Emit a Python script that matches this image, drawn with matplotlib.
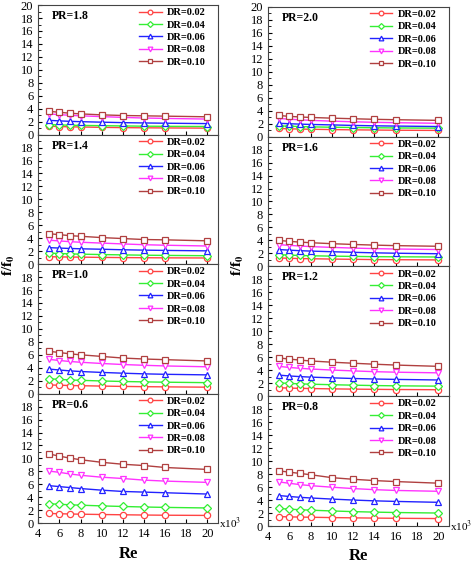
import matplotlib
matplotlib.use('Agg')
import matplotlib.pyplot as plt
from matplotlib.ticker import MultipleLocator, FixedLocator

plt.rcParams['font.family'] = ['Liberation Serif', 'DejaVu Serif']
plt.rcParams['mathtext.fontset'] = 'stix'

# Re (x10^3)
re = [5, 6, 7, 8, 10, 12, 14, 16, 20]
dr_labels = ['DR=0.02', 'DR=0.04', 'DR=0.06', 'DR=0.08', 'DR=0.10']

# f/f0 for each PR, one list per DR
pr_18 = [[1.30, 1.25, 1.20, 1.18, 1.12, 1.08, 1.05, 1.03, 1.00],
         [1.55, 1.50, 1.45, 1.42, 1.38, 1.34, 1.30, 1.28, 1.25],
         [2.20, 2.12, 2.05, 2.00, 1.92, 1.85, 1.80, 1.76, 1.70],
         [3.20, 3.08, 2.98, 2.90, 2.78, 2.66, 2.56, 2.50, 2.40],
         [3.60, 3.45, 3.30, 3.20, 3.05, 2.95, 2.90, 2.85, 2.75]]
pr_20 = [[1.25, 1.20, 1.16, 1.13, 1.08, 1.04, 1.01, 0.98, 0.95],
         [1.65, 1.60, 1.55, 1.50, 1.44, 1.40, 1.36, 1.33, 1.30],
         [2.05, 1.98, 1.92, 1.87, 1.80, 1.72, 1.66, 1.62, 1.55],
         [2.80, 2.68, 2.58, 2.50, 2.38, 2.28, 2.20, 2.14, 2.05],
         [3.25, 3.12, 3.02, 2.95, 2.84, 2.75, 2.66, 2.60, 2.50]]
pr_14 = [[1.15, 1.12, 1.10, 1.08, 1.04, 1.01, 0.99, 0.97, 0.95],
         [1.70, 1.64, 1.58, 1.54, 1.48, 1.43, 1.38, 1.35, 1.30],
         [2.55, 2.48, 2.42, 2.37, 2.30, 2.22, 2.16, 2.12, 2.05],
         [3.70, 3.58, 3.47, 3.38, 3.25, 3.12, 3.00, 2.92, 2.80],
         [4.70, 4.55, 4.40, 4.30, 4.10, 3.95, 3.80, 3.75, 3.60]]
pr_16 = [[1.30, 1.25, 1.21, 1.18, 1.13, 1.09, 1.05, 1.03, 1.00],
         [1.80, 1.74, 1.68, 1.64, 1.58, 1.54, 1.50, 1.48, 1.45],
         [2.60, 2.50, 2.42, 2.36, 2.26, 2.17, 2.09, 2.03, 1.95],
         [3.35, 3.24, 3.14, 3.05, 2.93, 2.82, 2.74, 2.68, 2.60],
         [4.00, 3.86, 3.74, 3.65, 3.50, 3.38, 3.28, 3.20, 3.10]]
pr_10 = [[1.35, 1.30, 1.26, 1.23, 1.17, 1.12, 1.08, 1.05, 1.00],
         [2.30, 2.20, 2.12, 2.06, 1.96, 1.88, 1.82, 1.77, 1.70],
         [3.80, 3.65, 3.52, 3.42, 3.28, 3.16, 3.06, 2.99, 2.90],
         [5.30, 5.12, 4.97, 4.85, 4.66, 4.50, 4.38, 4.28, 4.15],
         [6.55, 6.35, 6.15, 6.00, 5.75, 5.50, 5.35, 5.25, 5.05]]
pr_12 = [[1.30, 1.25, 1.21, 1.18, 1.13, 1.09, 1.06, 1.03, 1.00],
         [2.05, 1.97, 1.90, 1.85, 1.77, 1.70, 1.64, 1.60, 1.55],
         [3.25, 3.12, 3.02, 2.94, 2.83, 2.73, 2.65, 2.59, 2.50],
         [4.60, 4.43, 4.30, 4.19, 4.03, 3.90, 3.78, 3.70, 3.60],
         [5.90, 5.72, 5.56, 5.43, 5.24, 5.08, 4.93, 4.80, 4.60]]
pr_06 = [[1.50, 1.46, 1.42, 1.39, 1.34, 1.30, 1.26, 1.23, 1.20],
         [3.00, 2.92, 2.84, 2.78, 2.67, 2.58, 2.50, 2.44, 2.35],
         [5.80, 5.65, 5.50, 5.35, 5.10, 4.90, 4.80, 4.70, 4.50],
         [8.05, 7.85, 7.60, 7.40, 7.10, 6.90, 6.65, 6.50, 6.30],
         [10.70, 10.35, 10.05, 9.80, 9.40, 9.10, 8.90, 8.60, 8.30]]
pr_08 = [[1.45, 1.41, 1.38, 1.35, 1.30, 1.26, 1.22, 1.19, 1.15],
         [2.70, 2.60, 2.51, 2.44, 2.32, 2.22, 2.14, 2.08, 2.00],
         [4.70, 4.55, 4.42, 4.32, 4.15, 4.00, 3.88, 3.79, 3.65],
         [6.80, 6.58, 6.38, 6.22, 5.98, 5.77, 5.60, 5.48, 5.35],
         [8.50, 8.30, 8.10, 7.90, 7.45, 7.20, 7.00, 6.85, 6.60]]

left_col = [('PR=1.8', pr_18), ('PR=1.4', pr_14), ('PR=1.0', pr_10), ('PR=0.6', pr_06)]
right_col = [('PR=2.0', pr_20), ('PR=1.6', pr_16), ('PR=1.2', pr_12), ('PR=0.8', pr_08)]

colors = ['#ff4444', '#33ee33', '#2222ff', '#ff33ff', '#b04040']
markers = ['o', 'D', '^', 'v', 's']
msizes = [4.5, 4, 4.5, 4.5, 4.5]

fig = plt.figure(figsize=(4.72, 5.65), dpi=100)


def draw_col(panels, x0, x1, top, bottom):
    h = (top - bottom) / 4
    axes = []
    for i, (title, data) in enumerate(panels):
        ax = fig.add_axes([x0, top - (i + 1) * h, x1 - x0, h])
        for k in range(5):
            ax.plot(re, data[k], color=colors[k], marker=markers[k], ms=msizes[k],
                    mfc='white', mec=colors[k], mew=0.9, lw=1.0, label=dr_labels[k])
        ax.set_xlim(4, 21)
        ax.set_ylim(0, 20)
        ax.xaxis.set_major_locator(MultipleLocator(2))
        # the top label of lower panels is hidden by the panel above
        top_tick = 20 if i == 0 else 18
        ax.yaxis.set_major_locator(FixedLocator(list(range(0, top_tick + 1, 2))))
        ax.yaxis.set_minor_locator(MultipleLocator(1))
        ax.tick_params(direction='in', labelsize=9, length=3, width=0.8)
        ax.tick_params(which='minor', direction='in', length=2)
        for s in ax.spines.values():
            s.set_linewidth(0.8)
            s.set_color('#444444')
        if i < 3:
            ax.tick_params(labelbottom=False)
        ax.text(0.075, 0.915, title, transform=ax.transAxes, fontsize=8.5,
                fontweight='bold', va='center')
        ax.legend(loc='upper right', bbox_to_anchor=(0.955, 1.01), frameon=False,
                  prop={'weight': 'bold', 'size': 7.5}, handlelength=2.2,
                  markerscale=0.75, labelspacing=0.3, borderaxespad=0.0,
                  handletextpad=0.5)
        axes.append(ax)
    return axes


lax = draw_col(left_col, 0.081, 0.462, 0.991, 0.074)
rax = draw_col(right_col, 0.568, 0.951, 0.988, 0.069)

for ax in (lax[-1], rax[-1]):
    ax.text(1.005, 0.0, r'x10$^3$', transform=ax.transAxes, fontsize=8,
            va='center', ha='left')
    ax.set_xlabel('Re', fontsize=12, fontweight='bold', labelpad=4)

fig.text(0.018, 0.53, r'f/f$_\mathbf{0}$', rotation=90, fontsize=11,
         fontweight='bold', va='center', ha='center')
fig.text(0.505, 0.53, r'f/f$_\mathbf{0}$', rotation=90, fontsize=11,
         fontweight='bold', va='center', ha='center')

fig.savefig('out.png', dpi=100)
